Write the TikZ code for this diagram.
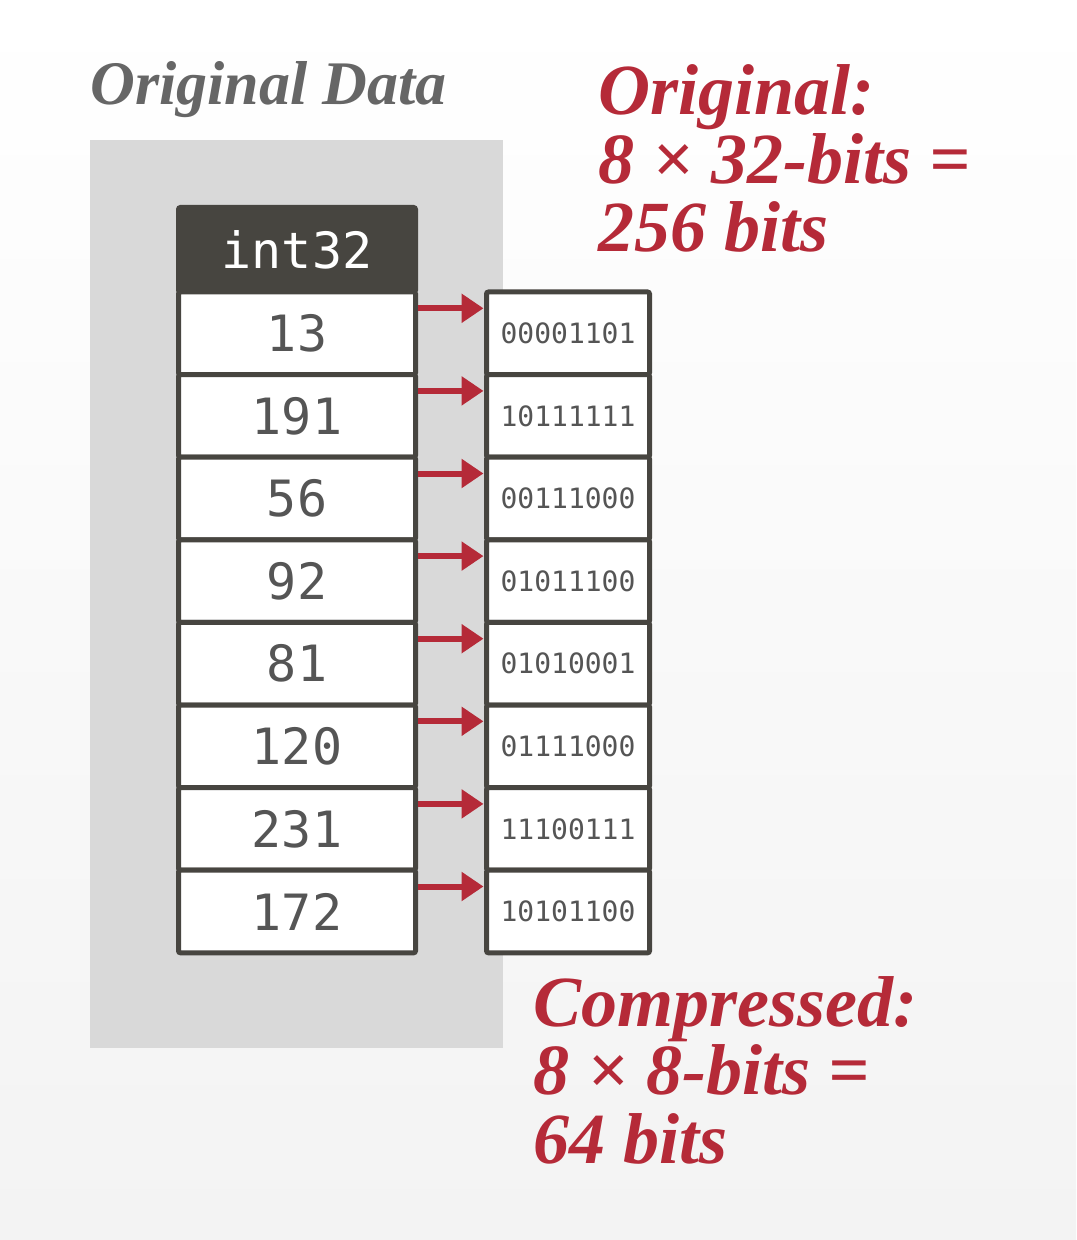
\documentclass[tikz,border=0pt]{standalone}
\usepackage{fontspec}
\setmainfont{Liberation Serif}
\setmonofont{DejaVu Sans Mono}
\usetikzlibrary{arrows.meta, positioning}

\definecolor{cellline}{HTML}{474540}
\definecolor{accent}{HTML}{B52A38}
\definecolor{panelgray}{HTML}{D9D9D9}
\definecolor{numgray}{HTML}{555555}
\definecolor{titlegray}{HTML}{666666}
\definecolor{bgbottom}{HTML}{F3F3F3}

\begin{document}
\begin{tikzpicture}[
  x=0.5pt, y=-0.5pt,
  cell/.style={rectangle, draw=cellline, line width=2.5pt, fill=white, rounded corners=1pt,
               minimum width=118.5pt, minimum height=41.3pt, inner sep=0pt, outer sep=0pt,
               text=numgray, font=\ttfamily\fontsize{25}{25}\selectfont},
  head/.style={cell, fill=cellline, text=white, minimum height=42.25pt},
  bitcell/.style={cell, minimum width=81.5pt, font=\ttfamily\fontsize{14}{14}\selectfont},
  arrow/.style={-{Triangle[length=11pt, width=14pt]}, line width=3pt, draw=accent,
                shorten <=1.25pt, shorten >=1.5pt},
  title/.style={font=\bfseries\itshape\fontsize{31}{31}\selectfont, text=titlegray, inner sep=0pt},
  note/.style={font=\bfseries\itshape\fontsize{36}{34.25}\selectfont, text=accent,
               align=left, inner sep=0pt}
]

% ---- Background and panel ----
\useasboundingbox (0,0) rectangle (1076,1240);
\shade[top color=white, bottom color=bgbottom] (0,0) rectangle (1076,1240);
\fill[panelgray] (90,140) rectangle (503,1048);

\node[title, anchor=base west] (title) at (90,105) {Original Data};

% ---- Column of int32 values ----
\node[head] (v0) at (297,249.75) {int32};
\foreach \val [count=\i, remember=\i as \j (initially 0)] in {13,191,56,92,81,120,231,172}
  \node[cell, below=0pt of v\j] (v\i) {\val};

% ---- Compressed 8-bit values ----
\foreach \bits [count=\i] in {00001101,10111111,00111000,01011100,01010001,01111000,11100111,10101100}
{
  \node[bitcell, right=35.5pt of v\i] (b\i) {\bits};
  \draw[arrow] ([yshift=12.5pt]v\i.east) -- ([yshift=12.5pt]b\i.west);
}

% ---- Size notes (anchored at the last line) ----
\node[note, anchor=base west] (orig) at (598,252) {Original:\\8 × 32-bits =\\256 bits};
\node[note, anchor=base west] (comp) at (533,1163) {Compressed:\\8 × 8-bits =\\64 bits};

\end{tikzpicture}
\end{document}
